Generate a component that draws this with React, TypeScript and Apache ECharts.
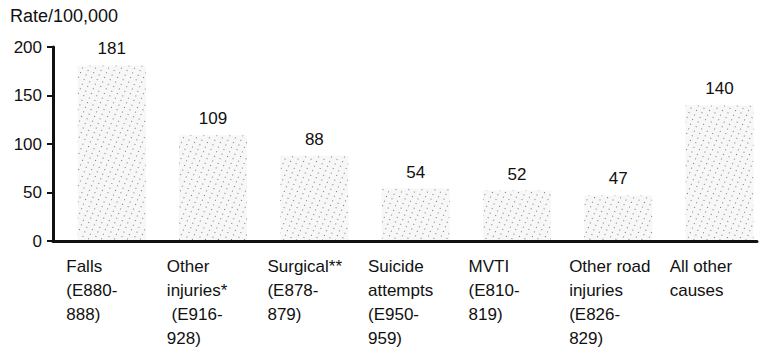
import React, { useEffect, useRef } from "react";
import * as echarts from "echarts";

const categories = [
  "Falls\n(E880-\n888)",
  "Other\ninjuries*\n (E916-\n928)",
  "Surgical**\n(E878-\n879)",
  "Suicide\nattempts\n(E950-\n959)",
  "MVTI\n(E810-\n819)",
  "Other road\ninjuries\n(E826-\n829)",
  "All other\ncauses",
];
const rates = [181, 109, 88, 54, 52, 47, 140];
const yTicks = [0, 50, 100, 150, 200];
const axisTitle = "Rate/100,000";

const FONT = "Liberation Sans, Arial, sans-serif";

export default function App() {
  const ref = useRef<HTMLDivElement>(null);
  useEffect(() => {
    document.body.style.margin = "0";
    if (!ref.current) return;
    const chart = echarts.init(ref.current, null, { renderer: "svg" });
    chart.setOption({
      animation: false,
      backgroundColor: "#ffffff",
      textStyle: { fontFamily: FONT },
      graphic: [
        {
          type: "text",
          left: 10,
          top: 7,
          style: { text: axisTitle, font: `18px ${FONT}`, fill: "#111" },
        },
      ],
      grid: { left: 53, right: 10, top: 47, bottom: 116, containLabel: false },
      xAxis: [
        {
          type: "value",
          min: -0.58,
          max: 6.37,
          z: 5,
          axisLine: { show: true, onZero: false, lineStyle: { color: "#111", width: 3 } },
          axisTick: { show: false },
          axisLabel: { show: false },
          splitLine: { show: false },
        },
        {
          type: "category",
          data: categories,
          position: "bottom",
          axisLine: { show: false },
          axisTick: { show: false },
          axisLabel: {
            interval: 0,
            align: "left",
            verticalAlign: "top",
            margin: 13,
            padding: [0, 0, 0, -37],
            fontSize: 17,
            lineHeight: 24,
            color: "#111",
            fontFamily: FONT,
          },
        },
      ],
      yAxis: {
        type: "value",
        min: yTicks[0],
        max: yTicks[yTicks.length - 1],
        interval: 50,
        z: 5,
        splitLine: { show: false },
        axisLine: { show: true, onZero: false, lineStyle: { color: "#111", width: 3 } },
        axisTick: { show: true, length: 6, lineStyle: { color: "#111", width: 2 } },
        axisLabel: { fontSize: 17, color: "#111", margin: 11, fontFamily: FONT },
      },
      series: [
        {
          type: "bar",
          xAxisIndex: 0,
          data: rates.map((v, i) => [i, v]),
          barWidth: 68,
          itemStyle: {
            color: "#f7f7f7",
            decal: {
              symbol: "rect",
              symbolSize: 1,
              dashArrayX: [1, 5],
              dashArrayY: [1, 4],
              rotation: 0.4,
              color: "#777777",
              backgroundColor: "#f8f8f8",
            },
          },
          label: {
            show: true,
            position: "top",
            distance: 8,
            fontSize: 17,
            color: "#111",
            fontFamily: FONT,
            formatter: (p: any) => String(p.value[1]),
          },
        },
      ],
    });
    return () => chart.dispose();
  }, []);
  return <div ref={ref} style={{ width: 767, height: 357 }} />;
}
